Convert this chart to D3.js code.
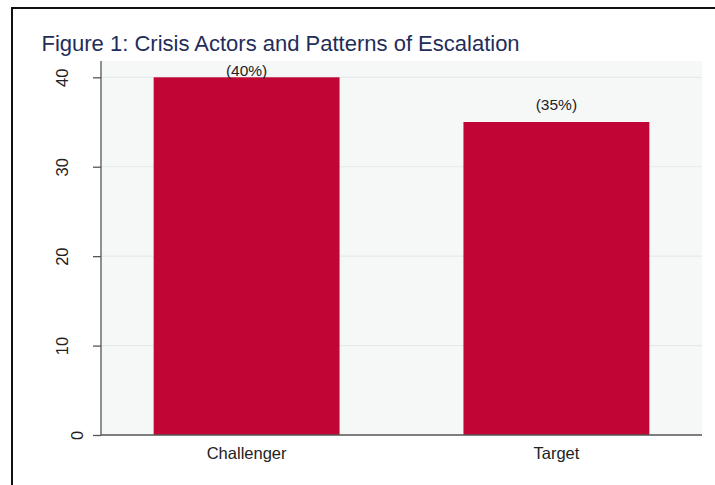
<!DOCTYPE html>
<html>
<head>
<meta charset="utf-8">
<script src="https://cdn.jsdelivr.net/npm/d3@7"></script>
<style>
  html, body { margin: 0; padding: 0; background: #fff; }
  svg { display: block; font-family: "Liberation Sans", Arial, sans-serif; }
</style>
</head>
<body>
<svg id="chart" width="715" height="485"></svg>
<script>
const categories = ["Challenger", "Target"];
const values = [40, 35];
const valueLabels = ["(40%)", "(35%)"];
const yTicks = [0, 10, 20, 30, 40];
const titleText = "Figure 1: Crisis Actors and Patterns of Escalation";

const svg = d3.select("#chart");

// outer frame (extends beyond viewport on right/bottom)
svg.append("rect").attr("x", 12).attr("y", 8).attr("width", 800).attr("height", 600)
  .attr("fill", "#fff").attr("stroke", "#111").attr("stroke-width", 2);

const plot = { left: 101, right: 702, top: 61, bottom: 435 };

const x = d3.scaleBand().domain(categories).range([plot.left, plot.right])
  .paddingInner(0.4).paddingOuter(0.17);
const y = d3.scaleLinear().domain([0, 40]).range([plot.bottom, 77.3]);

// plot background
svg.append("rect").attr("x", plot.left).attr("y", plot.top)
  .attr("width", plot.right - plot.left).attr("height", plot.bottom - plot.top)
  .attr("fill", "#f6f8f8");

// gridlines
svg.append("g").selectAll("line").data(yTicks.filter(d => d > 0)).join("line")
  .attr("x1", plot.left).attr("x2", plot.right)
  .attr("y1", d => y(d)).attr("y2", d => y(d))
  .attr("stroke", "#e3ebea").attr("stroke-width", 1.2);

// bars
svg.append("g").selectAll("rect").data(values).join("rect")
  .attr("x", (d, i) => x(categories[i]))
  .attr("y", d => y(d))
  .attr("width", x.bandwidth())
  .attr("height", d => y(0) - y(d))
  .attr("fill", "#c10534");

// value labels
svg.append("g").selectAll("text").data(values).join("text")
  .attr("x", (d, i) => x(categories[i]) + x.bandwidth() / 2)
  .attr("y", d => Math.max(y(d) - 12, plot.top + 15))
  .attr("text-anchor", "middle")
  .attr("font-size", 15.5)
  .attr("fill", "#222")
  .text((d, i) => valueLabels[i]);

// y axis
const yAxis = d3.axisLeft(y).tickValues(yTicks).tickSize(8).tickFormat(d3.format("d"));
const gy = svg.append("g").attr("transform", `translate(${plot.left},0)`).call(yAxis);
gy.select(".domain").attr("stroke", "#555").attr("stroke-width", 1.3)
  .attr("d", `M0,${plot.top}V${plot.bottom}`);
gy.selectAll(".tick line").attr("stroke", "#555").attr("stroke-width", 1.3);
gy.selectAll(".tick text").each(function(d) {
  const s = String(d);
  const right = 83 - (s.length - 1) * 15 - plot.left;
  d3.select(this)
    .attr("x", null).attr("dy", null)
    .attr("transform", `translate(${right},0) rotate(-90)`)
    .attr("text-anchor", "middle")
    .attr("font-size", 16.5)
    .attr("font-family", "Liberation Sans, Arial, sans-serif")
    .attr("fill", "#222");
});

// x axis
const xAxis = d3.axisBottom(x).tickSize(0);
const gx = svg.append("g").attr("transform", `translate(0,${plot.bottom})`).call(xAxis);
gx.select(".domain").attr("stroke", "#555").attr("stroke-width", 1.5)
  .attr("d", `M${plot.left},0H${plot.right}`);
gx.selectAll(".tick text")
  .attr("y", 24).attr("dy", null)
  .attr("font-size", 16.5)
  .attr("font-family", "Liberation Sans, Arial, sans-serif")
  .attr("fill", "#222");

// title
svg.append("text").attr("x", 41.5).attr("y", 51)
  .attr("font-size", 22)
  .attr("fill", "#1f2d5a")
  .text(titleText);
</script>
</body>
</html>
